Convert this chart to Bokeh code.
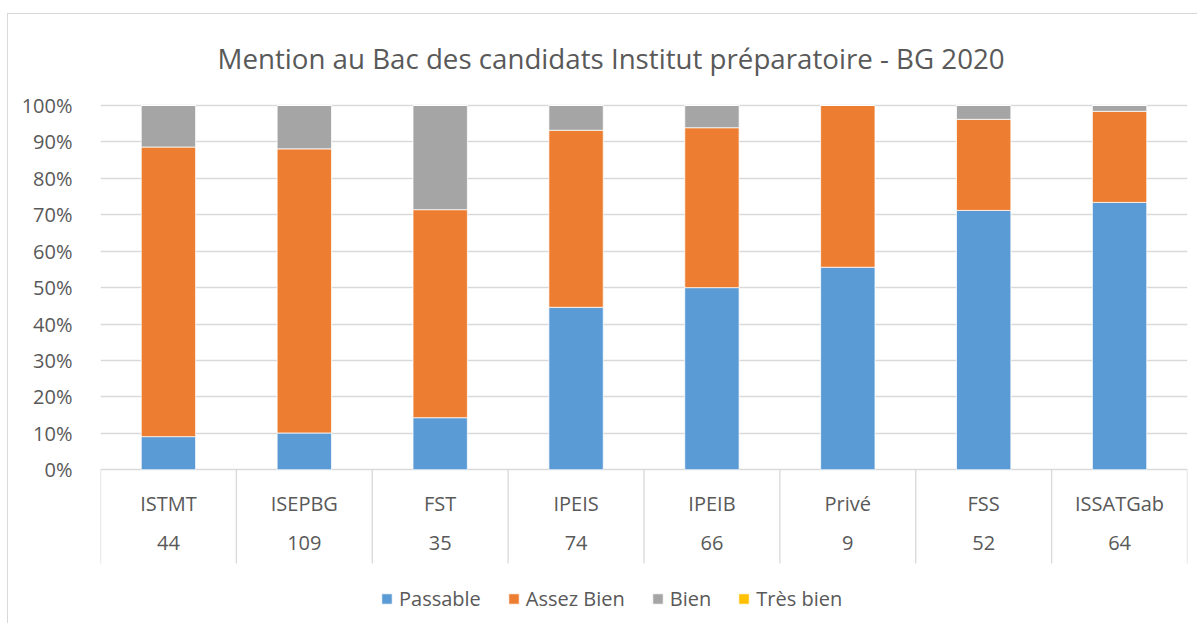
from bokeh.plotting import figure
from bokeh.models import (FactorRange, Range1d, CategoricalAxis, FixedTicker,
                          PrintfTickFormatter, CustomJSTickFormatter, Legend,
                          LegendItem, ColumnDataSource)
from bokeh.embed import file_html
from bokeh.resources import INLINE

chart_title = "Mention au Bac des candidats Institut préparatoire - BG 2020"
institutes = ["ISTMT", "ISEPBG", "FST", "IPEIS", "IPEIB", "Privé", "FSS", "ISSATGab"]
candidates = ["44", "109", "35", "74", "66", "9", "52", "64"]
series_labels = ["Passable", "Assez Bien", "Bien", "Très bien"]
passable = [9.1, 10.1, 14.3, 44.6, 50.0, 55.6, 71.2, 73.4]
assez_bien = [79.5, 78.0, 57.1, 48.6, 43.9, 44.4, 25.0, 25.0]
bien = [11.4, 11.9, 28.6, 6.8, 6.1, 0.0, 3.8, 1.6]
tres_bien = [0.0, 0.0, 0.0, 0.0, 0.0, 0.0, 0.0, 0.0]
y_ticks = [0, 10, 20, 30, 40, 50, 60, 70, 80, 90, 100]

colors = ["#5B9BD5", "#ED7D31", "#A5A5A5", "#FFC000"]
keys = ["passable", "assez_bien", "bien", "tres_bien"]
TXT = "#595959"
GRID = "#D9D9D9"
FONT = "Open Sans"

source = ColumnDataSource(data=dict(x=institutes, passable=passable,
                                    assez_bien=assez_bien, bien=bien,
                                    tres_bien=tres_bien))

y_start = -42.47
sep_bottom = -25.72
p = figure(width=1190, height=610,
           x_range=FactorRange(factors=institutes, range_padding=0),
           y_range=Range1d(y_start, 101.92),
           output_backend="svg", toolbar_location=None,
           min_border_left=92, min_border_right=11,
           min_border_top=84, min_border_bottom=0)
p.outline_line_color = None
p.background_fill_color = "white"
p.border_fill_color = "white"
p.styles = {"margin-left": "7px", "margin-top": "13px",
            "border-left": "1px solid #D9D9D9", "border-top": "1px solid #D9D9D9"}

# title
p.title.text = chart_title
p.title.text_font = FONT
p.title.text_font_size = "27.7px"
p.title.text_font_style = "normal"
p.title.text_color = TXT
p.title.align = "left"
p.title.offset = 117
p.title.standoff = 43

# bars
renderers = p.vbar_stack(keys, x="x", width=0.4, color=colors, source=source,
                         line_color="white", line_width=0.75)

# category separators below the axis
n = len(institutes)
p.segment(x0=list(range(n + 1)), y0=[0] * (n + 1),
          x1=list(range(n + 1)), y1=[sep_bottom] * (n + 1),
          line_color=GRID, line_width=1.3)

# grid
p.xgrid.visible = False
p.ygrid.ticker = FixedTicker(ticks=y_ticks)
p.ygrid.grid_line_color = GRID
p.ygrid.grid_line_width = 1.3

# y axis
p.yaxis.ticker = FixedTicker(ticks=y_ticks)
p.yaxis.formatter = PrintfTickFormatter(format="%d%%")
p.yaxis.axis_line_color = None
p.yaxis.major_tick_line_color = None
p.yaxis.minor_tick_line_color = None
p.yaxis.major_label_standoff = 22
p.yaxis.major_label_text_font = FONT
p.yaxis.major_label_text_font_size = "20px"
p.yaxis.major_label_text_color = TXT

# x axis: names
xa = p.xaxis[0]
xa.fixed_location = 0
xa.axis_line_color = None
xa.major_tick_line_color = None
xa.minor_tick_line_color = None
xa.major_label_standoff = 14
xa.major_label_text_font = FONT
xa.major_label_text_font_size = "20px"
xa.major_label_text_color = TXT

# x axis: candidate counts
counts = CategoricalAxis(fixed_location=0,
                         formatter=CustomJSTickFormatter(
                             args=dict(names=institutes, vals=candidates),
                             code="const i = names.indexOf(tick); return i >= 0 ? vals[i] : '';"))
counts.axis_line_color = None
counts.major_tick_line_color = None
counts.minor_tick_line_color = None
counts.major_label_standoff = 60
counts.major_label_text_font = FONT
counts.major_label_text_font_size = "20px"
counts.major_label_text_color = TXT
p.add_layout(counts, "below")

# legend (inside the extended frame, below the category labels)
legend = Legend(items=[LegendItem(label=lab, renderers=[r])
                       for lab, r in zip(series_labels, renderers)],
                orientation="horizontal", location=(280, 12))
legend.glyph_width = 13
legend.glyph_height = 13
legend.label_standoff = 6
legend.spacing = 26
legend.padding = 0
legend.margin = 0
legend.border_line_color = None
legend.background_fill_alpha = 0
legend.label_text_font = FONT
legend.label_text_font_size = "20px"
legend.label_text_color = TXT
p.add_layout(legend, "center")

open("out.html", "w").write(file_html(p, INLINE))
